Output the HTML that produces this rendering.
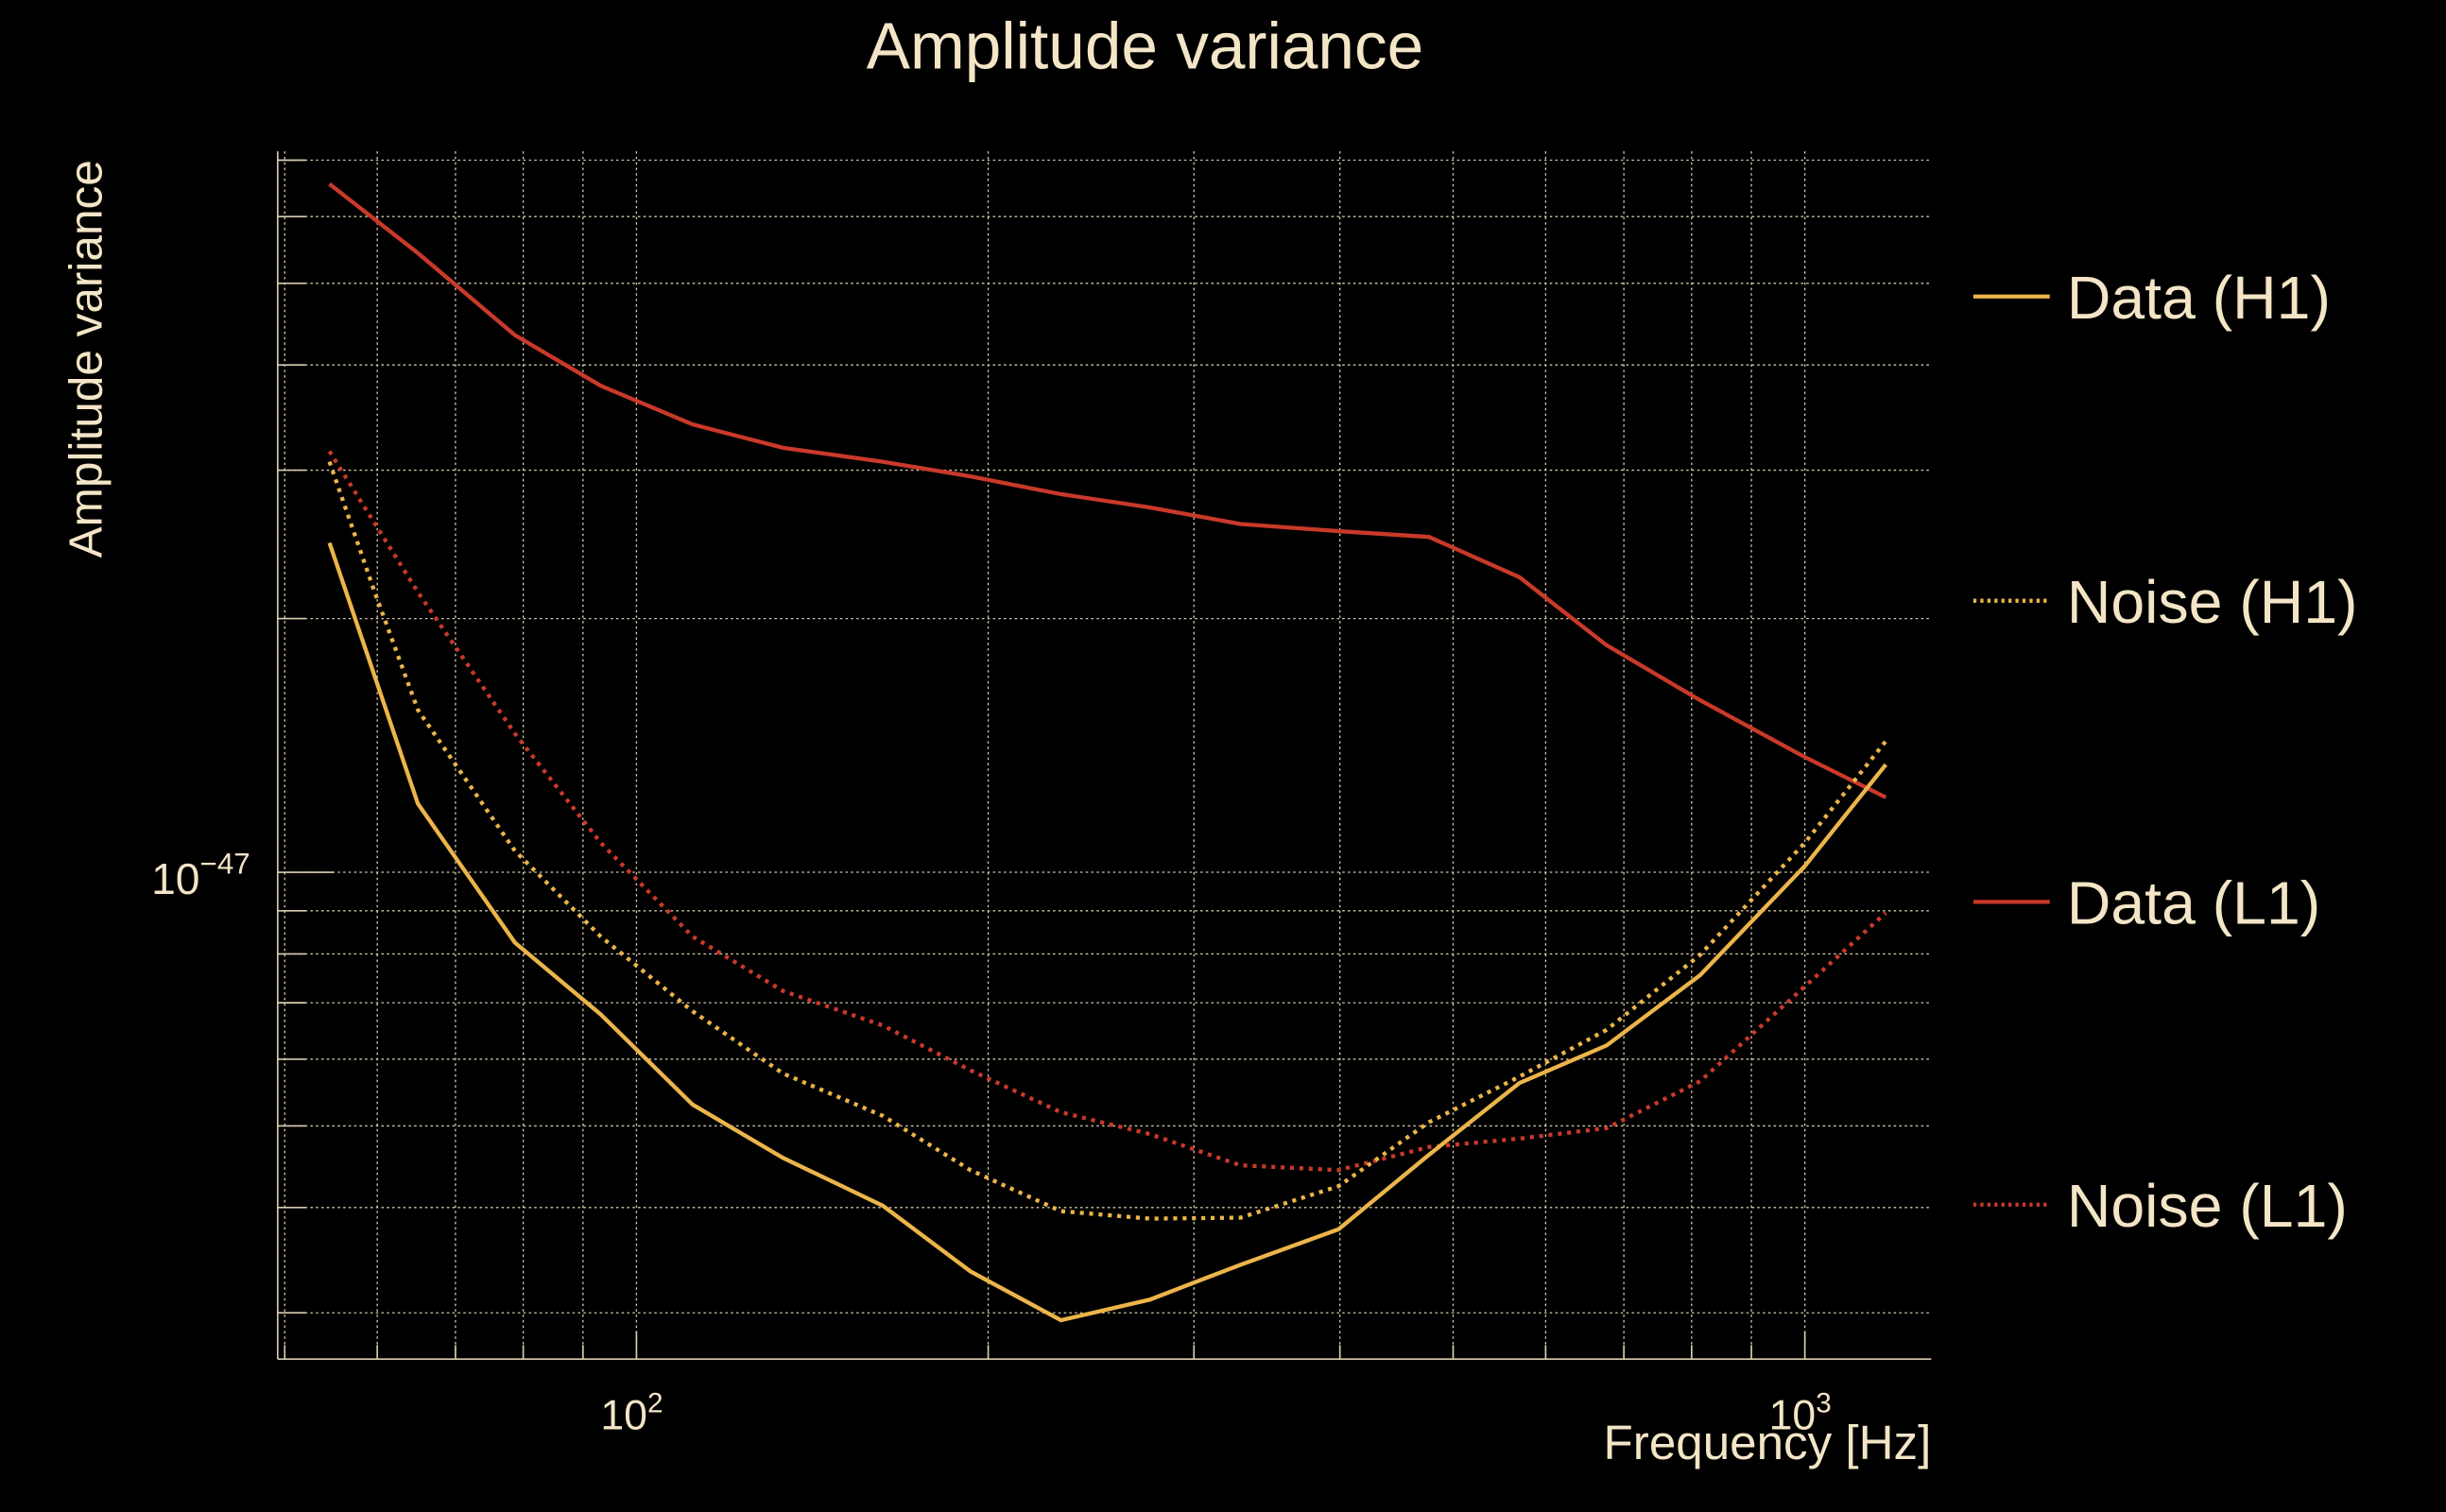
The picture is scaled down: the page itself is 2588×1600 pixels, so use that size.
<!DOCTYPE html>
<html><head><meta charset="utf-8"><style>
html,body{margin:0;padding:0;background:#000;}
svg{display:block;}
text{font-family:"Liberation Sans","DejaVu Sans",sans-serif;fill:#f3e5c6;}
</style></head><body>
<svg id="chart" width="2588" height="1600" viewBox="0 0 1568 969" preserveAspectRatio="none" xmlns="http://www.w3.org/2000/svg">
<rect width="1568" height="969" fill="#000"/>
<text x="734" y="44" font-size="42" text-anchor="middle">Amplitude variance</text>
<text transform="translate(65,230) rotate(-90)" font-size="30" text-anchor="middle">Amplitude variance</text>
<text x="1238" y="935" font-size="31" text-anchor="end">Frequency [Hz]</text>
<g id="grid"></g>
<g id="series"></g>
<g id="legend"></g>
</svg>
<script>
const freqMain = [54.6,65.0,78.7,93.2,111.7,133.5,162.5,193.1,230.8,275,328.7,399,476.7,569.7,676.6,813.7,1000,1173];
const freqNoiseH1 = [54.6,59.7,65.0,78.7,93.2,111.7,133.5,162.5,193.1,230.8,275,328.7,399,476.7,569.7,676.6,813.7,1000,1173];
// values in units of 1e-48
const dataH1 = [24.6,12.06,8.25,6.78,5.30,4.58,4.02,3.36,2.94,3.11,3.42,3.77,4.62,5.62,6.23,7.55,10.17,13.42];
const noiseH1 = [30.7,21.5,15.58,10.6,8.39,6.84,5.77,5.14,4.43,3.96,3.88,3.89,4.24,5.05,5.72,6.50,7.98,10.84,14.31];
const dataL1 = [65.6,54.3,43.4,37.8,34.0,31.9,30.7,29.5,28.1,27.1,25.9,25.4,25.0,22.4,18.6,16.0,13.7,12.27];
const noiseL1 = [31.6,21.5,14.6,10.84,8.39,7.23,6.58,5.82,5.19,4.89,4.49,4.43,4.72,4.83,4.97,5.65,7.32,8.95];
const xTicks = [100,1000];
const xTickLabels = ["2","3"];
const yTickLabel = "−47";

const L=178,R=1238,T=97,B=871;
const x = f => 408 + 749*(Math.log10(f)-2);
const y = v => 559 - 540*Math.log10(v/10);
const NS="http://www.w3.org/2000/svg";
function mk(tag,attrs,parent){const e=document.createElementNS(NS,tag);for(const k in attrs)e.setAttribute(k,attrs[k]);parent.appendChild(e);return e;}
const grid=document.getElementById('grid');
const gc="#d8ccb0";
for(let d=10;d<=1000;d*=10){for(let m=1;m<10;m++){const f=d*m;const px=x(f);if(px<L||px>R)continue;
 const g=mk('line',{x1:px,x2:px,y1:T,y2:B,stroke:gc,'stroke-width':0.8,'stroke-dasharray':'1.5 2'},grid);
 
 mk('line',{x1:px,x2:px,y1:B,y2:B-(m===1?18:9),stroke:gc,'stroke-width':1},grid);}}
for(let d=1;d<=10;d*=10){for(let m=1;m<10;m++){const v=d*m;const py=y(v);if(py<T||py>B)continue;
 const g=mk('line',{x1:L,x2:R,y1:py,y2:py,stroke:gc,'stroke-width':0.8,'stroke-dasharray':'1.5 2'},grid);
 
 mk('line',{x1:L,x2:L+(m===1&&d===10?36:18),y1:py,y2:py,stroke:gc,'stroke-width':1},grid);}}
mk('line',{x1:L,x2:L,y1:T,y2:B,stroke:gc,'stroke-width':1},grid);
mk('line',{x1:L,x2:R,y1:B,y2:B,stroke:gc,'stroke-width':1},grid);
xTicks.forEach((f,i)=>{const t=mk('text',{x:x(f)-3,y:916,'font-size':27,'text-anchor':'middle'},grid);
 
 t.textContent='10';const s=mk('tspan',{dy:-11,'font-size':18},t);s.textContent=xTickLabels[i];});
{const t=mk('text',{x:97,y:573,'font-size':28},grid);
 
 t.textContent='10';const s=mk('tspan',{dy:-13,'font-size':19},t);s.textContent=yTickLabel;}

const yellow="#ecb44a", red="#c9392a";
const ser=document.getElementById('series');
function line(fr,vals,color,dash,name){const d=fr.map((f,i)=>(i?'L':'M')+x(f).toFixed(1)+','+y(vals[i]).toFixed(1)).join(' ');
 const p=mk('path',{d:d,fill:'none',stroke:color,'stroke-width':2.6,'stroke-dasharray':dash||'none'},ser);
 }
line(freqMain,dataL1,red,null,'data-l1-line');
line(freqMain,noiseL1,red,'2.5 3.5','noise-l1-line');
line(freqNoiseH1,noiseH1,yellow,'2.5 3.5','noise-h1-line');
line(freqMain,dataH1,yellow,null,'data-h1-line');

const leg=document.getElementById('legend');
const items=[["Data (H1)",yellow,null,190,'legend-data-h1'],["Noise (H1)",yellow,'2 2.5',385,'legend-noise-h1'],["Data (L1)",red,null,578,'legend-data-l1'],["Noise (L1)",red,'2 2.5',772,'legend-noise-l1']];
items.forEach(it=>{const g=mk('g',{},leg);
 mk('line',{x1:1265,x2:1314,y1:it[3],y2:it[3],stroke:it[1],'stroke-width':2.6,'stroke-dasharray':it[2]||'none'},g);
 const t=mk('text',{x:1325,y:it[3]+14,'font-size':39},g);t.textContent=it[0];});
</script>
</body></html>
